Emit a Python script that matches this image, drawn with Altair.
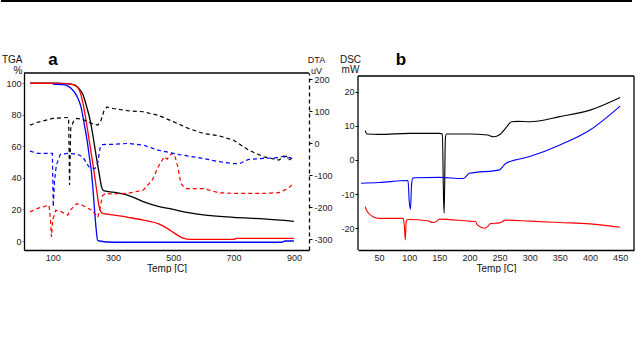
import altair as alt
import pandas as pd

# ---------------- Panel a : TGA (solid, left axis, %) ----------------
tga_black_t = [25, 100, 150, 170, 183, 200, 213, 225, 236, 245, 254, 262, 268, 280, 300, 350, 400, 450, 500, 550, 600, 700, 800, 900]
tga_black_v = [100, 100, 99.8, 99, 97.5, 93, 85, 76, 64, 53, 43, 34.5, 32, 31.5, 31, 29, 25, 22, 20, 18, 16.5, 15, 14, 12.5]

tga_red_t = [25, 100, 140, 172, 190, 203, 212, 221, 230, 238, 246, 254, 260, 265, 280, 300, 350, 400, 450, 480, 500, 530, 560, 600, 700, 710, 900]
tga_red_v = [100, 100, 99.8, 99, 95, 85, 75, 64, 53, 43, 32, 22, 18.5, 17.5, 17, 16.5, 15, 13.3, 11, 8, 5.5, 2, 1, 1, 1, 1.7, 1.7]

tga_blue_t = [100, 140, 160, 180, 194, 204, 214, 222, 229, 234, 238, 244, 249, 255, 300, 500, 860, 870, 900]
tga_blue_v = [99.5, 99, 97, 92, 85, 75, 64, 53, 43, 32, 22, 8, 0.5, 0, -0.8, -0.8, -0.8, 0, 0]

# ---------------- Panel a : DTA (dashed, right axis, uV) ----------------
dta_black_t = [25, 50, 100, 150, 153, 156, 160, 170, 180, 200, 230, 250, 260, 270, 280, 300, 350, 400, 450, 500, 550, 600, 650, 700, 750, 800, 850, 865, 875, 885, 900]
dta_black_v = [56, 65, 77, 80, 80, -131, 46, 70, 77, 74, 61, 56, 70, 100, 113, 108, 101, 98, 87, 67, 46, 30, 23, 9, -22, -43, -53, -44, -41, -52, -43]

dta_blue_t = [25, 50, 95, 99, 102, 106, 112, 125, 150, 180, 200, 220, 240, 250, 258, 265, 280, 300, 350, 400, 450, 500, 520, 600, 650, 700, 720, 750, 800, 850, 870, 880, 900]
dta_blue_v = [-25, -32, -32, -32, -199, -120, -70, -36, -32, -34, -43, -74, -80, -60, -10, -5, -4, -4, -1, -6, -22, -32, -36, -48, -58, -64, -64, -51, -48, -45, -40, -46, -45]

dta_red_t = [25, 50, 88, 93, 96, 100, 110, 130, 150, 160, 180, 200, 230, 250, 258, 265, 275, 300, 350, 400, 430, 450, 470, 480, 495, 505, 515, 525, 540, 600, 650, 700, 800, 850, 880, 900]
dta_red_v = [-215, -204, -194, -240, -293, -241, -210, -215, -225, -208, -189, -195, -210, -232, -200, -165, -157, -159, -157, -147, -116, -74, -43, -50, -32, -40, -74, -126, -142, -142, -155, -157, -157, -155, -142, -126]

# ---------------- Panel b : DSC (mW) ----------------
dsc_black_t = [27, 30, 50, 100, 150, 155, 157, 158, 160, 162, 200, 230, 240, 250, 260, 270, 280, 300, 350, 400, 450]
dsc_black_v = [8.6, 7.6, 7.5, 7.8, 7.8, 7.6, -11.7, -15.6, 6.5, 7.6, 7.6, 7.3, 6.8, 7.4, 9.3, 11.2, 11.3, 11.2, 12.7, 14.6, 18.3]

dsc_blue_t = [20, 50, 98, 100, 102, 104, 106, 110, 150, 190, 200, 250, 255, 260, 300, 350, 400, 450]
dsc_blue_v = [-6.8, -6.6, -6.0, -12, -14.4, -7, -5.3, -5.2, -5.1, -5.4, -3.9, -2.9, -2, -1, 1, 4.4, 8.8, 15.8]

dsc_red_t = [27, 30, 40, 50, 90, 92, 93.5, 95, 97, 130, 140, 148, 150, 200, 210, 213, 225, 230, 235, 250, 260, 300, 350, 400, 450]
dsc_red_v = [-13.7, -15, -16.6, -17.1, -17.1, -19.5, -23.4, -18, -17.4, -17.8, -18.3, -17.6, -17.3, -17.9, -18, -19, -20, -19.5, -18.6, -18.4, -17.6, -17.9, -18.3, -18.7, -19.7]

series = ["black", "blue", "red"]
colors = ["#000000", "#0000ff", "#ff0000"]


def frame(parts):
    rows = []
    for name, t, v in parts:
        for i, (a, b) in enumerate(zip(t, v)):
            rows.append({"T": a, "V": b, "s": name, "i": i})
    return pd.DataFrame(rows)


tga_df = frame([("black", tga_black_t, tga_black_v), ("red", tga_red_t, tga_red_v), ("blue", tga_blue_t, tga_blue_v)])
dta_df = frame([("black", dta_black_t, dta_black_v), ("red", dta_red_t, dta_red_v), ("blue", dta_blue_t, dta_blue_v)])
dsc_df = frame([("black", dsc_black_t, dsc_black_v), ("red", dsc_red_t, dsc_red_v), ("blue", dsc_blue_t, dsc_blue_v)])

FONT = "Liberation Sans"
WA, HA = 285, 177
WB, HB = 276, 177

color = alt.Color("s:N", scale=alt.Scale(domain=series, range=colors), legend=None)
one = pd.DataFrame({"k": [0]})

xa = alt.X("T:Q", scale=alt.Scale(domain=[5, 950], nice=False, zero=False),
           axis=alt.Axis(values=[100, 200, 300, 400, 500, 600, 700, 800, 900], title="Temp  [C]",
                         ticks=False, labelPadding=3, grid=False, domainColor="#000", domainWidth=1.3,
                         titleY=21, titleBaseline="alphabetic", titleFontWeight="normal", titleFontSize=10))

tga = alt.Chart(tga_df).mark_line(strokeWidth=1.3, interpolate="monotone").encode(
    x=xa,
    y=alt.Y("V:Q", scale=alt.Scale(domain=[-5.7, 106.5], nice=False, zero=False),
            axis=alt.Axis(values=[0, 20, 40, 60, 80, 100], title=["TGA", "%"], orient="left",
                          titleAngle=0, titleAlign="right", titleBaseline="alphabetic", titleX=-2, titleY=-11,
                          titleLineHeight=11, titleFontWeight="normal", titleFontSize=10,
                          tickSize=2, labelPadding=1, grid=False, domainColor="#000", domainWidth=1.3)),
    color=color,
    order="i:Q",
)

top_a = alt.Chart(one).mark_rule(color="#000", strokeWidth=1.3).encode(
    x=alt.value(0), x2=alt.value(WA), y=alt.value(0))
img_top = alt.Chart(one).mark_rule(color="#000", strokeWidth=2).encode(
    x=alt.value(-23), x2=alt.value(608), y=alt.value(-72))
lab_a = alt.Chart(one).mark_text(text="a", font=FONT, fontSize=17, fontWeight="bold").encode(
    x=alt.value(29), y=alt.value(-13))

dta = alt.Chart(dta_df).mark_line(strokeWidth=1.2, strokeDash=[4, 3]).encode(
    x=alt.X("T:Q"),
    y=alt.Y("V:Q", scale=alt.Scale(domain=[-334, 219], nice=False, zero=False),
            axis=alt.Axis(values=[200, 100, 0, -100, -200, -300], title=["DTA", "uV"], orient="right",
                          labelExpr="'' + datum.value",
                          titleAngle=0, titleAlign="center", titleBaseline="alphabetic", titleX=7, titleY=-11,
                          titleLineHeight=11, titleFontWeight="normal", titleFontSize=9,
                          tickSize=3, labelPadding=2, grid=False, domainColor="#000", domainWidth=1.3,
                          domainDash=[4, 3], tickColor="#000")),
    color=color,
    order="i:Q",
)

left_layer = alt.layer(tga, top_a, img_top, lab_a).properties(width=WA, height=HA)
panel_a = alt.layer(left_layer, dta).resolve_scale(y="independent").properties(width=WA, height=HA)

xb = alt.X("T:Q", scale=alt.Scale(domain=[15, 473], nice=False, zero=False),
           axis=alt.Axis(values=[50, 100, 150, 200, 250, 300, 350, 400, 450], title="Temp  [C]",
                         ticks=False, labelPadding=3, grid=False, domainColor="#000", domainWidth=1.3,
                         titleY=21, titleBaseline="alphabetic", titleFontWeight="normal", titleFontSize=10))

dsc = alt.Chart(dsc_df).mark_line(strokeWidth=1.1, interpolate="monotone").encode(
    x=xb,
    y=alt.Y("V:Q", scale=alt.Scale(domain=[-26.35, 25.47], nice=False, zero=False),
            axis=alt.Axis(values=[-20, -10, 0, 10, 20], title=["DSC", "mW"], orient="left",
                          labelExpr="'' + datum.value", domain=False,
                          titleAngle=0, titleAlign="center", titleBaseline="alphabetic", titleX=-8, titleY=-11,
                          titleLineHeight=10, titleFontWeight="normal", titleFontSize=10,
                          tickSize=3, labelPadding=1, grid=False, tickColor="#000")),
    color=color,
    order="i:Q",
)
b_top = alt.Chart(one).mark_rule(color="#000", strokeWidth=1.3).encode(
    x=alt.value(0), x2=alt.value(WB), y=alt.value(3))
b_left = alt.Chart(one).mark_rule(color="#000", strokeWidth=1.3).encode(
    x=alt.value(0), y=alt.value(3), y2=alt.value(HB))
b_right = alt.Chart(one).mark_rule(color="#000", strokeWidth=1.3).encode(
    x=alt.value(WB), y=alt.value(3), y2=alt.value(HB))
lab_b = alt.Chart(one).mark_text(text="b", font=FONT, fontSize=17, fontWeight="bold").encode(
    x=alt.value(43), y=alt.value(-13))

panel_b = alt.layer(dsc, b_top, b_left, b_right, lab_b).properties(width=WB, height=HB)

chart = alt.hconcat(panel_a, panel_b, spacing=49, bounds="flush").properties(
    padding={"left": 0, "top": 0, "right": 0, "bottom": 0},
    background="#ffffff",
).configure_view(stroke=None).configure_axis(
    labelFont=FONT, titleFont=FONT, labelFontSize=9, labelColor="#222", titleColor="#111",
).configure_text(font=FONT)

chart.save("out.html", embed_options={"renderer": "svg", "actions": False})
